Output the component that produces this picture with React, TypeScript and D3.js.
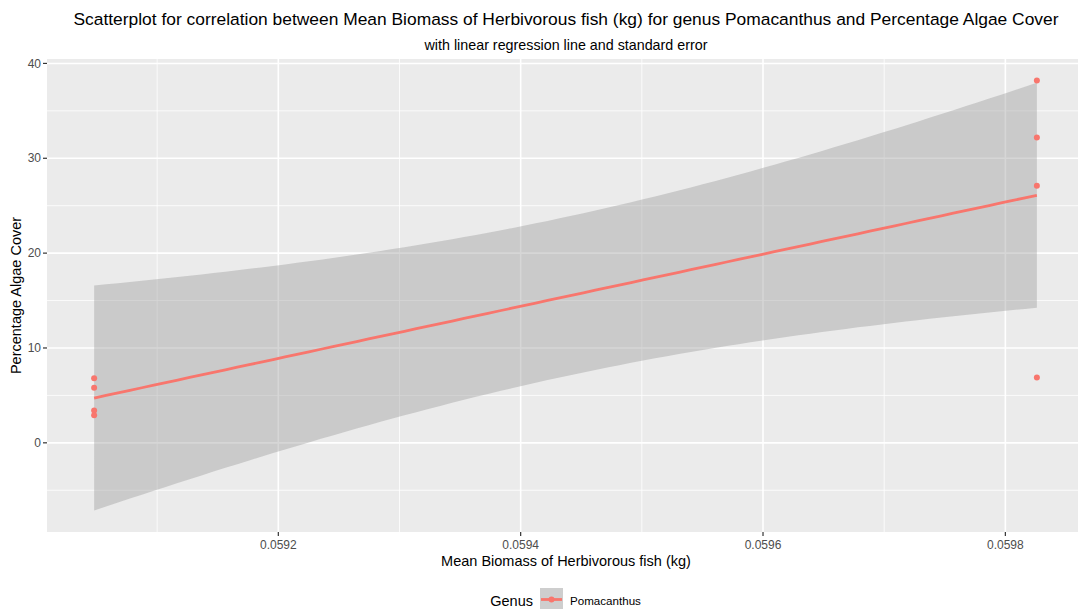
import React from "react";
import * as d3 from "d3";

const biomass = [0.059048, 0.059048, 0.059048, 0.059048, 0.059826, 0.059826, 0.059826, 0.059826];
const algaeCover = [6.8, 5.8, 3.4, 2.9, 38.2, 32.2, 27.1, 6.9];
const xTicks = [0.0592, 0.0594, 0.0596, 0.0598];
const xMinor = [0.0591, 0.0593, 0.0595, 0.0597, 0.0599];
const yTicks = [0, 10, 20, 30, 40];
const yMinor = [-5, 5, 15, 25, 35];
const genus = ["Pomacanthus"];
const T_CRIT_DF6 = 2.4469;

const W = 1078, H = 609;
const P = { left: 47, right: 1084, top: 59, bottom: 532 };
const RED = "#F8766D";
const FONT = "'Liberation Sans', Arial, Helvetica, sans-serif";

export default function App() {
  const n = biomass.length;
  const mx = d3.mean(biomass)!;
  const my = d3.mean(algaeCover)!;
  const sxx = d3.sum(biomass, (v) => (v - mx) ** 2);
  const sxy = d3.sum(biomass.map((v, i) => (v - mx) * (algaeCover[i] - my)));
  const slope = sxy / sxx;
  const intercept = my - slope * mx;
  const sse = d3.sum(biomass.map((v, i) => (algaeCover[i] - (intercept + slope * v)) ** 2));
  const s = Math.sqrt(sse / (n - 2));
  const [xmin, xmax] = d3.extent(biomass) as [number, number];
  const fit = d3.range(80).map((i) => {
    const x = xmin + ((xmax - xmin) * i) / 79;
    const y = intercept + slope * x;
    const se = s * Math.sqrt(1 / n + (x - mx) ** 2 / sxx);
    return { x, y, lo: y - T_CRIT_DF6 * se, hi: y + T_CRIT_DF6 * se };
  });
  const xr = xmax - xmin;
  const x = d3.scaleLinear().domain([xmin - 0.05 * xr, xmax + 0.05 * xr]).range([P.left, P.right]);
  const yLo = Math.min(d3.min(algaeCover)!, d3.min(fit, (d) => d.lo)!);
  const yHi = Math.max(d3.max(algaeCover)!, d3.max(fit, (d) => d.hi)!);
  const yr = yHi - yLo;
  const y = d3.scaleLinear().domain([yLo - 0.05 * yr, yHi + 0.05 * yr]).range([P.bottom, P.top]);

  const area = d3.area<any>().x((d) => x(d.x)).y0((d) => y(d.lo)).y1((d) => y(d.hi))(fit)!;
  const line = d3.line<any>().x((d) => x(d.x)).y((d) => y(d.y))(fit)!;
  const cx = 566;

  return (
    <svg width={W} height={H} style={{ position: "absolute", left: 0, top: 0, background: "#fff" }} fontFamily={FONT}>
      <defs>
        <clipPath id="panel">
          <rect x={P.left} y={P.top} width={W - P.left} height={P.bottom - P.top} />
        </clipPath>
      </defs>
      <text x={cx} y={25} textAnchor="middle" fontSize={17.4} fill="#000">
        Scatterplot for correlation between Mean Biomass of Herbivorous fish (kg) for genus Pomacanthus and Percentage Algae Cover
      </text>
      <text x={cx} y={50} textAnchor="middle" fontSize={14.3} fill="#000">
        with linear regression line and standard error
      </text>
      <g clipPath="url(#panel)">
        <rect x={P.left} y={P.top} width={P.right - P.left} height={P.bottom - P.top} fill="#EBEBEB" />
        {yMinor.map((t) => (
          <line key={"ym" + t} x1={P.left} x2={P.right} y1={y(t)} y2={y(t)} stroke="#fff" strokeWidth={0.8} />
        ))}
        {xMinor.map((t) => (
          <line key={"xm" + t} x1={x(t)} x2={x(t)} y1={P.top} y2={P.bottom} stroke="#fff" strokeWidth={0.8} />
        ))}
        {yTicks.map((t) => (
          <line key={"yM" + t} x1={P.left} x2={P.right} y1={y(t)} y2={y(t)} stroke="#fff" strokeWidth={1.6} />
        ))}
        {xTicks.map((t) => (
          <line key={"xM" + t} x1={x(t)} x2={x(t)} y1={P.top} y2={P.bottom} stroke="#fff" strokeWidth={1.6} />
        ))}
        <path d={area} fill="#999999" fillOpacity={0.4} />
        {biomass.map((v, i) => (
          <circle key={i} cx={x(v)} cy={y(algaeCover[i])} r={3} fill={RED} />
        ))}
        <path d={line} fill="none" stroke={RED} strokeWidth={2.8} />
      </g>
      {yTicks.map((t) => (
        <g key={"yt" + t}>
          <line x1={P.left - 4} x2={P.left} y1={y(t)} y2={y(t)} stroke="#333" strokeWidth={1.2} />
          <text x={P.left - 6} y={y(t)} dy="0.35em" textAnchor="end" fontSize={12} fill="#4D4D4D">{t}</text>
        </g>
      ))}
      {xTicks.map((t) => (
        <g key={"xt" + t}>
          <line x1={x(t)} x2={x(t)} y1={P.bottom} y2={P.bottom + 4} stroke="#333" strokeWidth={1.2} />
          <text x={x(t)} y={P.bottom + 17} textAnchor="middle" fontSize={12} fill="#4D4D4D">{t.toFixed(4)}</text>
        </g>
      ))}
      <text x={cx} y={566} textAnchor="middle" fontSize={14.5} fill="#000">Mean Biomass of Herbivorous fish (kg)</text>
      <text transform={`translate(21,${(P.top + P.bottom) / 2}) rotate(-90)`} textAnchor="middle" fontSize={14.5} fill="#000">Percentage Algae Cover</text>
      <g>
        <text x={533} y={606} textAnchor="end" fontSize={14.5} fill="#000">Genus</text>
        <rect x={540} y={588} width={23} height={23} fill="#F2F2F2" />
        <rect x={540} y={588} width={23} height={23} fill="#999999" fillOpacity={0.4} />
        <line x1={541} x2={562} y1={599.5} y2={599.5} stroke={RED} strokeWidth={2.8} />
        <circle cx={551.5} cy={599.5} r={3} fill={RED} />
        <text x={570} y={605} fontSize={11.6} fill="#000">{genus[0]}</text>
      </g>
    </svg>
  );
}
